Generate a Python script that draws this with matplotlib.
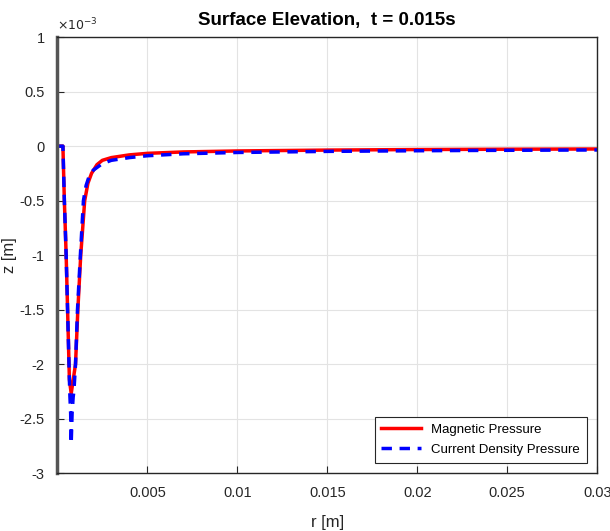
import matplotlib.pyplot as plt
import numpy as np

# radial positions [m] and surface elevation [x 1e-3 m]
r_mag = [0, 0.00031, 0.00039, 0.00049, 0.00067, 0.00077, 0.00101, 0.00114,
         0.0013, 0.00152, 0.0017, 0.0019, 0.0022, 0.0025, 0.003, 0.004, 0.005,
         0.007, 0.01, 0.015, 0.02, 0.025, 0.03]
z_mag = [0, 0, -0.5, -1.0, -2.14, -2.27, -2.0, -1.5,
         -1.0, -0.5, -0.34, -0.25, -0.17, -0.13, -0.105, -0.08, -0.066,
         -0.053, -0.044, -0.036, -0.031, -0.028, -0.026]

r_cur = [0, 0.00031, 0.00039, 0.00049, 0.00067, 0.0007, 0.00074, 0.00077,
         0.00082, 0.00088, 0.00092, 0.00101, 0.00112, 0.00128, 0.00145, 0.0016,
         0.0018, 0.002, 0.0025, 0.003, 0.004, 0.005, 0.007, 0.01, 0.015, 0.02,
         0.025, 0.03]
z_cur = [0, 0, -0.5, -1.0, -2.14, -2.3, -2.45, -2.73,
         -2.45, -2.3, -2.25, -2.0, -1.5, -1.0, -0.5, -0.36,
         -0.26, -0.22, -0.16, -0.13, -0.105, -0.088, -0.07, -0.058, -0.048, -0.042,
         -0.038, -0.035]

xticks = [0.005, 0.01, 0.015, 0.02, 0.025, 0.03]
xtick_labels = ['0.005', '0.01', '0.015', '0.02', '0.025', '0.03']
yticks = [1, 0.5, 0, -0.5, -1, -1.5, -2, -2.5, -3]
ytick_labels = ['1', '0.5', '0', '-0.5', '-1', '-1.5', '-2', '-2.5', '-3']

plt.rcParams['font.family'] = ['Liberation Sans', 'DejaVu Sans']

fig = plt.figure(figsize=(6.1, 5.31), dpi=100)
ax = fig.add_axes([0.094, 0.109, 0.885, 0.821])

ax.plot(r_mag, z_mag, color='red', linewidth=2.5, label='Magnetic Pressure')
ax.plot(r_cur, z_cur, color='blue', linewidth=2.5, linestyle=(0, (3, 2.2)),
        label='Current Density Pressure')

ax.set_xlim(0, 0.03)
ax.set_ylim(-3, 1)
ax.set_xticks(xticks)
ax.set_xticklabels(xtick_labels)
ax.set_yticks(yticks)
ax.set_yticklabels(ytick_labels)

ax.grid(True, color='#e3e3e3', linewidth=0.8)
ax.set_axisbelow(True)
ax.tick_params(direction='in', length=5, colors='#262626', labelsize=10.5,
               labelcolor='#262626', pad=9)
for side in ['top', 'right', 'bottom']:
    ax.spines[side].set_color('#262626')
    ax.spines[side].set_linewidth(1.0)
ax.spines['left'].set_color('#555555')
ax.spines['left'].set_linewidth(2.5)

ax.set_title('Surface Elevation,  t = 0.015s', fontsize=13.5, fontweight='bold', pad=9)
ax.set_xlabel('r [m]', fontsize=12, color='#262626')
ax.set_ylabel('z [m]', fontsize=12, color='#262626')
ax.yaxis.set_label_coords(-0.075, 0.5)
ax.xaxis.set_label_coords(0.5, -0.095)
ax.text(0.0, 1.01, r'$\times10^{-3}$', transform=ax.transAxes, fontsize=9,
        color='#262626', ha='left', va='bottom')

leg = ax.legend(loc='lower right', fontsize=9.5, fancybox=False, framealpha=1,
                edgecolor='#262626', handlelength=3.0, borderaxespad=0.8,
                borderpad=0.5, labelspacing=0.6)
leg.get_frame().set_linewidth(0.8)

fig.savefig('out.png', dpi=100)
